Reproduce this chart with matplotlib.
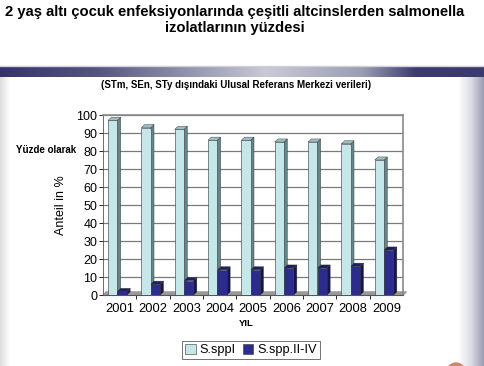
import numpy as np
import matplotlib.pyplot as plt
from matplotlib.colors import LinearSegmentedColormap
from matplotlib.patches import Circle

# --- Données ---
yillar = ['2001', '2002', '2003', '2004', '2005', '2006', '2007', '2008', '2009']
s_sppI = [97, 93, 92, 86, 86, 85, 85, 84, 75]
s_spp_II_IV = [2, 6, 8, 14, 14, 15, 15, 16, 25]
etiketler = ['S.sppI', 'S.spp.II-IV']

baslik = '2 yaş altı çocuk enfeksiyonlarında çeşitli altcinslerden salmonella\nizolatlarının yüzdesi'
alt_baslik = '(STm, SEn, STy dışındaki Ulusal Referans Merkezi verileri)'

W, H = 484, 366
fig = plt.figure(figsize=(W / 100, H / 100), dpi=100)
fig.patch.set_facecolor('white')

# --- Arrière-plan de la diapositive ---
bg = fig.add_axes([0, 0, 1, 1], zorder=-10)
bg.set_xlim(0, W)
bg.set_ylim(H, 0)
bg.axis('off')

band_cmap = LinearSegmentedColormap.from_list(
    'band', [(0, '#34346a'), (0.2, '#55557f'), (0.55, '#c9c9d6'), (0.75, '#9c9cb4'), (0.86, '#3c3c6e'), (1, '#3a3a6c')])
bg.imshow(np.linspace(0, 1, 256)[None, :], cmap=band_cmap, aspect='auto',
          extent=[0, W, 77, 67])
bg.plot([0, W], [66, 66], color='#d0d0d8', lw=1)

side_cmap = LinearSegmentedColormap.from_list('side', ['#ffffff', '#dcdce6', '#9c9cb2'])
bg.imshow(np.linspace(0, 1, 64)[None, :], cmap=side_cmap, aspect='auto',
          extent=[458, W, H, 77])
left_cmap = LinearSegmentedColormap.from_list('left', ['#dcdcdc', '#ffffff'])
bg.imshow(np.linspace(0, 1, 64)[None, :], cmap=left_cmap, aspect='auto',
          extent=[0, 10, H, 77])
bg.add_patch(Circle((456, 372), 9, color='#d0866a'))

fig.text(235 / W, 1 - 20 / H, baslik, ha='center', va='center', fontsize=10.6,
         fontweight='bold', family='Liberation Sans', linespacing=1.1)
fig.text(236 / W, 1 - 85 / H, alt_baslik, ha='center', va='center', fontsize=7,
         fontweight='bold', family='Liberation Sans')
fig.text(16 / W, 1 - 150 / H, 'Yüzde olarak', ha='left', va='center', fontsize=7,
         fontweight='bold', family='Liberation Sans')

# --- Graphique ---
ax = fig.add_axes([103 / W, 1 - 295 / H, 300 / W, 180 / H])
ax.set_xlim(-0.5, len(yillar) - 0.5)
ax.set_ylim(0, 100)

x = np.arange(len(yillar))
w = 0.28
dx, dy = 0.1, 1.7  # profondeur 3D
seriler = [
    (s_sppI, -0.21, '#c6e7ea', '#62868a', '#9ebfc2'),
    (s_spp_II_IV, 0.075, '#2c2c8e', '#16164e', '#1e1e66'),
]

# sol (floor)
ax.fill([-0.5, 8.5, 8.5 + dx, -0.5 + dx], [0, 0, dy, dy], color='#9a9a9a', zorder=2, clip_on=False)

for i, (vals, off, c_front, c_side, c_top) in enumerate(seriler):
    z = 3 + i
    ax.bar(x + off, vals, w, color=c_front, edgecolor='#333333', linewidth=0.4,
           label=etiketler[i], zorder=z + 0.5)
    for xi, v in zip(x + off, vals):
        x0, x1 = xi - w / 2, xi + w / 2
        ax.fill([x1, x1 + dx, x1 + dx, x1], [0, dy, v + dy, v], color=c_side,
                edgecolor='#333333', linewidth=0.3, zorder=z, clip_on=False)
        ax.fill([x0, x0 + dx, x1 + dx, x1], [v, v + dy, v + dy, v], color=c_top,
                edgecolor='#333333', linewidth=0.3, zorder=z, clip_on=False)

ax.set_yticks(np.arange(0, 101, 10))
ax.yaxis.grid(True, color='#7a7a7a', linewidth=0.9)
ax.set_axisbelow(True)
ax.tick_params(axis='y', labelsize=9, length=3, width=0.6, pad=1)
ax.set_xticks(x)
ax.set_xticklabels(yillar)
ax.tick_params(axis='x', which='major', length=0, labelsize=9.3, pad=6)
ax.set_xticks(np.arange(0.5, len(yillar) - 0.5), minor=True)
ax.tick_params(axis='x', which='minor', length=3, width=0.6)
for lbl in ax.get_xticklabels() + ax.get_yticklabels():
    lbl.set_family('Liberation Sans')

for s in ['top', 'right']:
    ax.spines[s].set_color('#8a8a8a')
    ax.spines[s].set_linewidth(1.2)
ax.spines['left'].set_color('#555555')
ax.spines['left'].set_linewidth(0.6)
ax.spines['bottom'].set_color('#555555')
ax.spines['bottom'].set_linewidth(0.8)

ax.set_ylabel('Anteil in %', fontsize=9, family='Liberation Sans', labelpad=7)
fig.text(246 / W, 1 - 323 / H, 'YIL', ha='center', va='center', fontsize=6.8,
         fontweight='bold', family='Liberation Sans')

leg = fig.legend(loc='center', bbox_to_anchor=(251 / W, 1 - 350 / H), ncol=2,
                 frameon=True, fancybox=False, edgecolor='#333333',
                 handlelength=0.8, handleheight=0.8, handletextpad=0.3,
                 columnspacing=0.6, borderpad=0.25, borderaxespad=0,
                 prop={'family': 'Liberation Sans', 'size': 9.2})
leg.get_frame().set_linewidth(0.6)

plt.savefig('out.png', dpi=100)
